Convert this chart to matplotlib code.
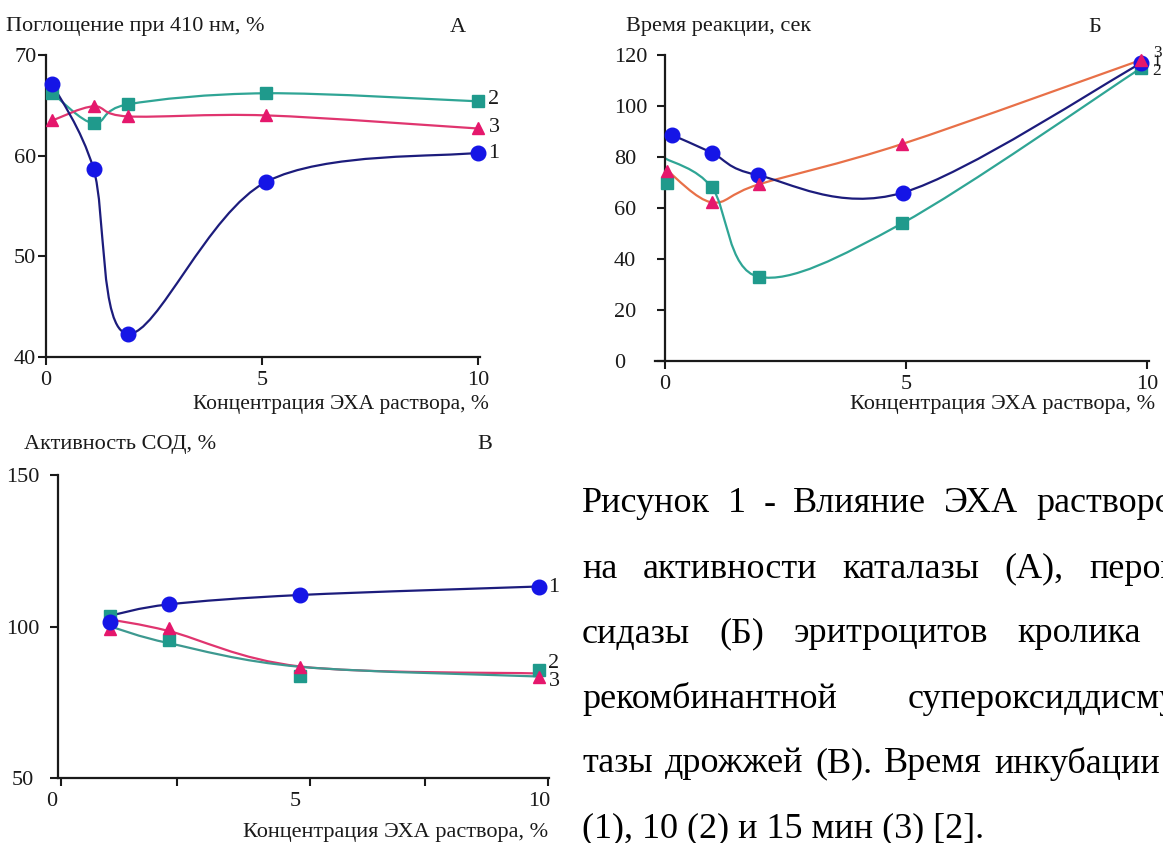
import matplotlib
matplotlib.use("Agg")
import matplotlib.pyplot as plt
import numpy as np
from matplotlib.path import Path
from matplotlib.patches import PathPatch

plt.rcParams['font.family'] = ['Liberation Serif', 'DejaVu Serif']

# Panel A - catalase, absorbance at 410 nm
a_x = [0.15, 1.1, 1.9, 5.1, 10.0]
a_s1 = [67.1, 58.7, 42.3, 57.4, 60.3]
a_s2 = [66.2, 63.2, 65.1, 66.2, 65.4]
a_s3 = [63.5, 64.9, 63.9, 64.0, 62.7]

# Panel B - peroxidase, reaction time
b_x1 = [0.15, 0.97, 1.92, 4.93, 9.87]
b_x = [0.05, 0.97, 1.95, 4.92, 9.87]
b_s1 = [88.6, 81.7, 72.9, 66.0, 116.7]
b_s2 = [69.9, 68.1, 33.0, 54.0, 114.8]
b_s2_line_x = [0.0, 0.97, 1.95, 4.92, 9.87]
b_s2_line = [79.5, 68.1, 33.0, 54.0, 114.8]
b_s3 = [74.6, 62.2, 69.3, 85.1, 118.0]

# Panel V - SOD activity (markers and trend lines differ a little)
v_x = [1.2, 2.4, 5.1, 10.0]
v_s1 = [101.6, 107.3, 110.4, 113.2]
v_s1_line = [103.6, 107.3, 110.4, 113.2]
v_s2 = [103.6, 95.4, 83.6, 85.8]
v_s2_line = [100.0, 94.5, 86.7, 83.5]
v_s3 = [99.1, 99.6, 86.6, 83.2]
v_s3_line = [102.3, 98.5, 86.8, 84.5]

xlabel = "Концентрация ЭХА раствора, %"
caption = [
    "Рисунок 1 - Влияние ЭХА растворов",
    "на активности каталазы (А), перок-",
    "сидазы (Б) эритроцитов кролика и",
    "рекомбинантной супероксиддисму-",
    "тазы дрожжей (В). Время инкубации 5",
]
caption_last = "(1), 10 (2) и 15 мин (3) [2]."

BLUE_M, BLUE_L = "#1515e6", "#1c1c7c"
TEAL_M, TEAL_L = "#1f9a8c", "#2fa595"
RED_M, RED_L = "#e5176c", "#e0356f"
ORANGE_L = "#e87048"
INK = "#1a1a1a"

W, H = 1163, 843
fig = plt.figure(figsize=(W / 100, H / 100), dpi=100)
fig.patch.set_facecolor("white")


def px(x, y):
    return x / W, 1 - y / H


def box(left, top, right, bottom):
    return [left / W, 1 - bottom / H, (right - left) / W, (bottom - top) / H]


def smooth(ax, xs, ys, color, lw=1.6):
    # Excel-like smoothed line: cubic bezier through the points
    pts = np.column_stack([xs, ys]).astype(float)
    n = len(pts)
    verts, codes = [pts[0]], [Path.MOVETO]
    for i in range(n - 1):
        p0 = pts[i - 1] if i > 0 else pts[i]
        p1, p2 = pts[i], pts[i + 1]
        p3 = pts[i + 2] if i + 2 < n else p2
        verts += [p1 + (p2 - p0) / 6, p2 - (p3 - p1) / 6, p2]
        codes += [Path.CURVE4] * 3
    ax.add_patch(PathPatch(Path(verts, codes), facecolor="none", edgecolor=color,
                           lw=lw, zorder=2, capstyle="round"))


def style(ax):
    for s in ["top", "right"]:
        ax.spines[s].set_visible(False)
    for s in ["left", "bottom"]:
        ax.spines[s].set_linewidth(1.6)
        ax.spines[s].set_color(INK)
    ax.tick_params(which="both", direction="out", width=1.5, color=INK,
                   labelsize=16, labelcolor=INK)
    ax.patch.set_alpha(0)


def marks(ax, xs, ys, kind, color, size):
    ax.plot(xs, ys, linestyle="none", marker=kind, ms=size, color=color,
            mec=color, zorder=3, clip_on=False)


# ---- Panel A ----
axA = fig.add_axes(box(46, 55, 480, 357))
style(axA)
axA.set_xlim(0, 10.05)
axA.set_ylim(40, 70)
axA.set_xticks([0, 5, 10])
axA.set_yticks([40, 50, 60, 70])
axA.tick_params(axis="y", length=6, pad=1)
axA.tick_params(axis="x", length=6, pad=4)
smooth(axA, a_x, a_s2, TEAL_L)
smooth(axA, a_x, a_s3, RED_L)
smooth(axA, a_x, a_s1, BLUE_L)
marks(axA, a_x, a_s2, "s", TEAL_M, 9)
marks(axA, a_x, a_s3, "^", RED_M, 9)
marks(axA, a_x, a_s1, "o", BLUE_M, 10.5)

fig.text(*px(6, 27), "Поглощение при 410 нм, %", fontsize=16, color=INK, va="center")
fig.text(*px(458, 27), "А", fontsize=16, color=INK, va="center", ha="center")
fig.text(*px(489, 405), xlabel, fontsize=15.5, color=INK, va="center", ha="right")
for lab, yy in [("2", 100), ("3", 128), ("1", 154)]:
    fig.text(*px(494, yy), lab, fontsize=16, color=INK, va="center", ha="center")

# ---- Panel B ----
axB = fig.add_axes(box(655.4, 55, 1149.4, 361))
style(axB)
axB.set_xlim(-0.2, 10.05)
axB.set_ylim(0, 120)
axB.spines["left"].set_position(("data", 0))
axB.set_xticks([0, 5, 10])
axB.set_yticks([0, 20, 40, 60, 80, 100, 120])
axB.tick_params(axis="y", length=6, pad=31)
axB.tick_params(axis="x", length=6, pad=4)
for t in axB.get_yticklabels():
    t.set_horizontalalignment("left")
smooth(axB, b_x, b_s3, ORANGE_L)
smooth(axB, b_x1, b_s1, BLUE_L)
smooth(axB, b_s2_line_x, b_s2_line, TEAL_L)
marks(axB, b_x, b_s2, "s", TEAL_M, 9)
marks(axB, b_x1, b_s1, "o", BLUE_M, 10.5)
marks(axB, b_x, b_s3, "^", RED_M, 9)

fig.text(*px(626, 27), "Время реакции, сек", fontsize=16, color=INK, va="center")
fig.text(*px(1095, 27), "Б", fontsize=16, color=INK, va="center", ha="center")
fig.text(*px(1155, 405), xlabel, fontsize=16, color=INK, va="center", ha="right")
for lab, yy in [("3", 53), ("1", 62), ("2", 71)]:
    fig.text(*px(1157, yy), lab, fontsize=12.5, color=INK, va="center", ha="center")

# ---- Panel V ----
axV = fig.add_axes(box(42.3, 475, 551, 778))
style(axV)
axV.set_xlim(-0.2, 10.25)
axV.set_ylim(50, 150)
axV.spines["left"].set_position(("data", 0.12))
axV.spines["bottom"].set_bounds(0.12, 10.2)
axV.set_xticks([0, 5, 10])
axV.set_xticks([0.18, 2.56, 5.3, 7.67, 10.18], minor=True)
axV.set_yticks([50, 100, 150])
axV.tick_params(axis="x", which="major", length=0, pad=10)
axV.tick_params(axis="x", which="minor", length=6)
axV.tick_params(axis="y", length=6, pad=19)
for t in axV.get_yticklabels():
    t.set_horizontalalignment("center")
smooth(axV, v_x, v_s3_line, RED_L)
smooth(axV, v_x, v_s2_line, "#3d9990")
smooth(axV, v_x, v_s1_line, BLUE_L)
marks(axV, v_x, v_s2, "s", TEAL_M, 9)
marks(axV, v_x, v_s3, "^", RED_M, 9)
marks(axV, v_x, v_s1, "o", BLUE_M, 10.5)

fig.text(*px(24, 445), "Активность СОД, %", fontsize=16, color=INK, va="center")
fig.text(*px(485, 445), "В", fontsize=16, color=INK, va="center", ha="center")
fig.text(*px(548, 832), xlabel, fontsize=16, color=INK, va="center", ha="right")
for lab, yy in [("1", 588), ("2", 663), ("3", 682)]:
    fig.text(*px(554, yy), lab, fontsize=16, color=INK, va="center", ha="center")

# ---- Caption (justified, runs past the right edge) ----
renderer = fig.canvas.get_renderer()
cap_left, cap_right, cap_size = 582, 1190, 26
line_y = [504, 569, 634, 699, 764]
for text_line, yy in zip(caption, line_y):
    words = text_line.split(" ")
    items = [fig.text(0, 0, w, fontsize=cap_size, color="black", va="center")
             for w in words]
    widths = [t.get_window_extent(renderer).width for t in items]
    gap = (cap_right - cap_left - sum(widths)) / (len(words) - 1)
    x = cap_left
    for t, w in zip(items, widths):
        t.set_position(px(x, yy))
        x += w + gap
fig.text(*px(cap_left, 829), caption_last, fontsize=cap_size, color="black", va="center")

fig.savefig("out.png", dpi=100)
